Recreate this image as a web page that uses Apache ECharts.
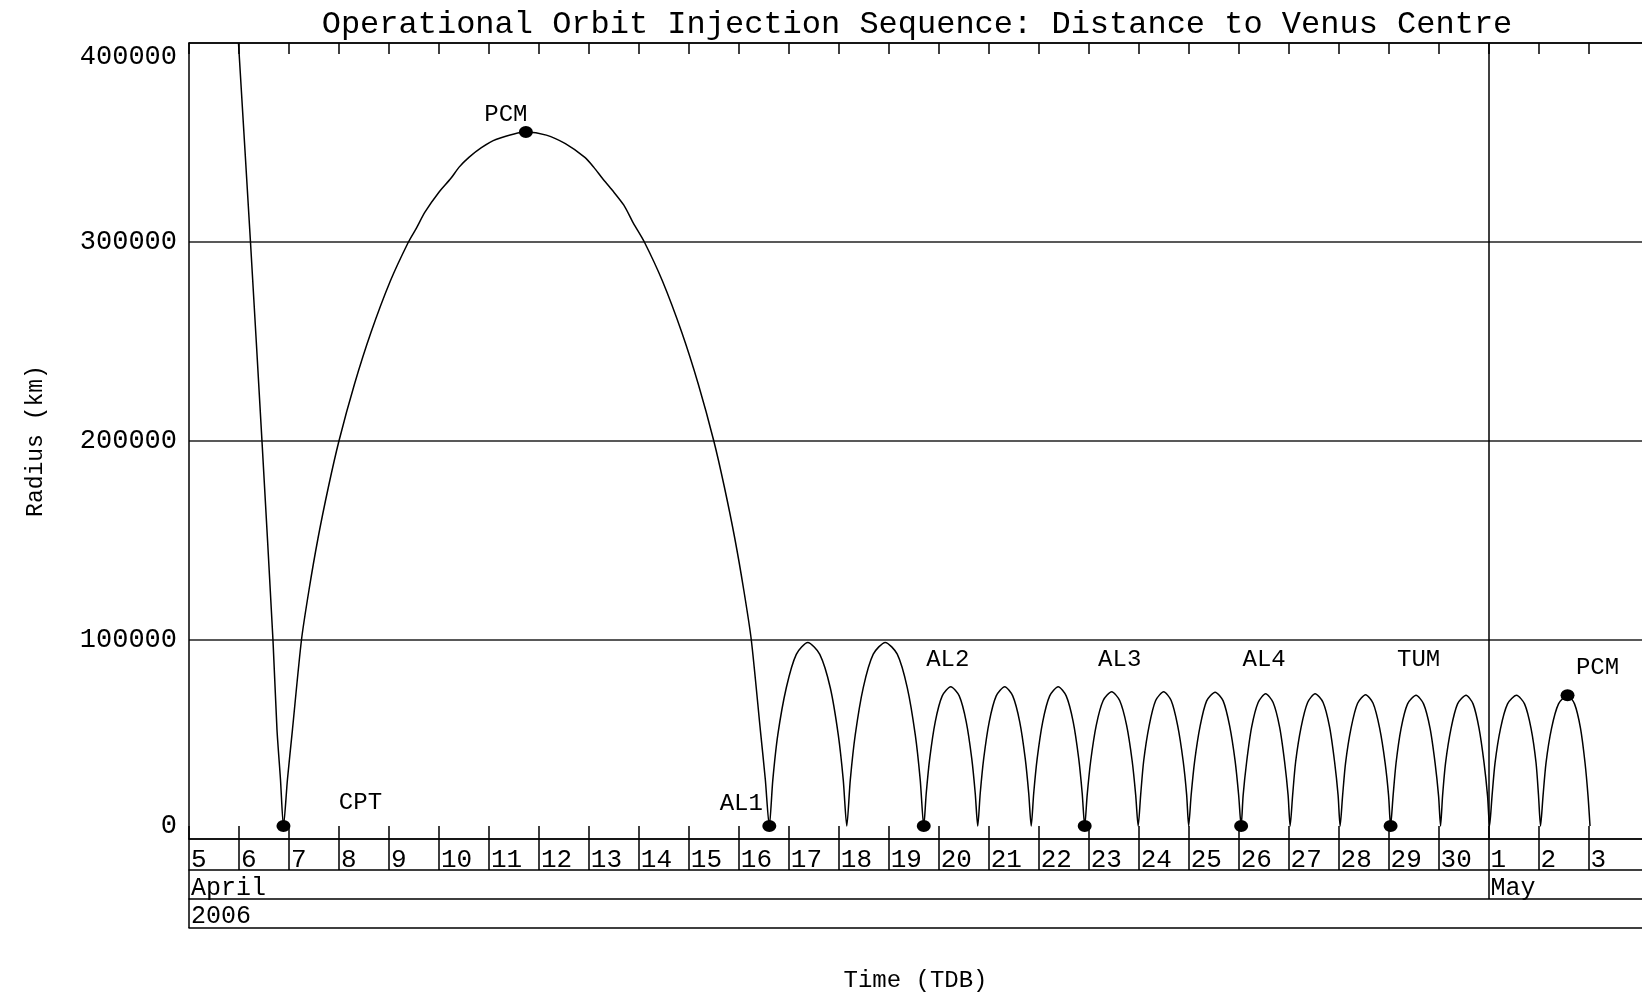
<!DOCTYPE html>
<html>
<head>
    <meta charset="utf-8">
    <title>Operational Orbit Injection Sequence</title>
    <script src="https://cdn.jsdelivr.net/npm/echarts@6/dist/echarts.min.js"></script>
    <style>
        html, body { margin: 0; padding: 0; background: #fff; }
    </style>
</head>
<body>
    <div id="main" style="width: 1642px;height:998px;"></div>

    <script type="text/javascript">

        // time is in April days (5 = 5 April 00:00, 31 = 1 May)
        var orbitDay = [
            5.99, 6.23, 6.46, 6.68, 6.76, 6.83, 6.89,
            6.97, 7.07, 7.25, 7.40, 7.58, 7.79, 8.00, 8.31, 8.64, 9.03, 9.39, 9.55, 9.72,
            10.00, 10.24, 10.40, 10.60, 10.85, 11.14, 11.74,
            12.15, 12.53, 12.92, 13.10, 13.27, 13.47, 13.70, 13.89, 14.11, 14.47, 14.86, 15.19, 15.50,
            15.71, 15.92, 16.10, 16.25, 16.43, 16.53, 16.61,
            16.68, 16.78, 16.95, 17.15, 17.38, 17.62, 17.83, 17.99, 18.09, 18.16,
            18.23, 18.33, 18.49, 18.69, 18.93, 19.17, 19.37, 19.53, 19.63, 19.70,
            19.75, 19.82, 19.93, 20.07, 20.24, 20.41, 20.55, 20.66, 20.73, 20.78,
            20.83, 20.90, 21.01, 21.15, 21.32, 21.48, 21.62, 21.73, 21.80, 21.85,
            21.90, 21.97, 22.08, 22.22, 22.39, 22.55, 22.69, 22.80, 22.87, 22.92,
            22.97, 23.04, 23.15, 23.29, 23.46, 23.62, 23.76, 23.87, 23.94, 23.99,
            24.04, 24.10, 24.21, 24.34, 24.50, 24.65, 24.78, 24.89, 24.96, 25.00,
            25.05, 25.12, 25.23, 25.36, 25.53, 25.69, 25.82, 25.93, 26.00, 26.05,
            26.09, 26.16, 26.26, 26.39, 26.54, 26.69, 26.82, 26.92, 26.99, 27.03,
            27.08, 27.14, 27.25, 27.38, 27.53, 27.69, 27.82, 27.92, 27.99, 28.03,
            28.08, 28.14, 28.25, 28.38, 28.54, 28.69, 28.82, 28.93, 29.00, 29.04,
            29.09, 29.15, 29.25, 29.38, 29.55, 29.70, 29.83, 29.93, 30.00, 30.04,
            30.08, 30.14, 30.25, 30.38, 30.55, 30.69, 30.81, 30.91, 30.98, 31.02,
            31.07, 31.13, 31.24, 31.38, 31.56, 31.72, 31.85, 31.95, 32.00, 32.04,
            32.09, 32.15, 32.26, 32.40, 32.58, 32.72, 32.84, 32.93, 32.99, 33.03
        ];
        var orbitKm = [
            400000, 300000, 200000, 100000, 55000, 30000, 6500,
            30000, 55000, 100000, 125000, 151000, 177000, 200000, 228500, 254500, 280500, 300000, 307000, 315000,
            325000, 332000, 337500, 342500, 347400, 351500, 355300,
            353700, 349400, 342500, 337500, 332000, 326000, 318500, 309500, 300000, 280500, 254500, 228500, 200000,
            177000, 151000, 125000, 100000, 55000, 30000, 6500,
            29600, 52300, 76000, 92800, 98700, 92800, 76000, 52300, 29600, 6500,
            29600, 52400, 76100, 92900, 98800, 92900, 76100, 52400, 29600, 6500,
            23000, 40500, 58900, 71900, 76500, 71900, 58900, 40500, 23000, 6500,
            23000, 40500, 58900, 71900, 76500, 71900, 58900, 40500, 23000, 6500,
            23000, 40500, 58900, 71900, 76500, 71900, 58900, 40500, 23000, 6500,
            22200, 39200, 57000, 69600, 74000, 69600, 57000, 39200, 22200, 6500,
            22200, 39200, 57000, 69600, 74000, 69600, 57000, 39200, 22200, 6500,
            22100, 39100, 56800, 69400, 73800, 69400, 56800, 39100, 22100, 6500,
            21900, 38700, 56200, 68600, 73000, 68600, 56200, 38700, 21900, 6500,
            21900, 38700, 56200, 68600, 73000, 68600, 56200, 38700, 21900, 6500,
            21800, 38400, 55800, 68200, 72500, 68200, 55800, 38400, 21800, 6500,
            21700, 38300, 55600, 67900, 72200, 67900, 55600, 38300, 21700, 6500,
            21700, 38300, 55600, 67900, 72200, 67900, 55600, 38300, 21700, 6500,
            21700, 38300, 55600, 67900, 72200, 67900, 55600, 38300, 21700, 6500,
            21700, 38300, 55600, 67900, 72200, 67900, 55600, 38300, 21700, 6500
        ];

        // manoeuvres
        var eventName = ['CPT', 'PCM', 'AL1', 'AL2', 'AL3', 'AL4', 'TUM', 'PCM'];
        var eventDay  = [6.89, 11.74, 16.61, 19.70, 22.92, 26.05, 29.04, 32.58];
        var eventKm   = [6500, 355300, 6500, 6500, 6500, 6500, 6500, 72200];

        var dayTicks = [5, 6, 7, 8, 9, 10, 11, 12, 13, 14, 15, 16, 17, 18, 19, 20,
                        21, 22, 23, 24, 25, 26, 27, 28, 29, 30, 31, 32, 33];
        var monthTicks = [5, 31];
        var monthNames = ['April', 'May'];
        var yearTicks = [5];
        var yearNames = ['2006'];
        var radiusTicks = [0, 100000, 200000, 300000, 400000];

        // where each manoeuvre name sits relative to its dot (px)
        var labelOffsets = [[77, -23], [-20, -17], [-28, -22], [24, -166],
                            [35, -166], [23, -166], [28, -166], [30, -28]];

        var FONT = '"Liberation Mono", "DejaVu Sans Mono", monospace';
        var INK = '#000';
        var XMIN = 5, XMAX = 34.07;

        function dayLabel(v) {
            return String(v <= 30 ? v : v - 30);
        }

        function baseX(extra) {
            var ax = {
                type: 'value', min: XMIN, max: XMAX, position: 'bottom', offset: 0,
                axisLine: { show: false, lineStyle: { color: INK, width: 1.5 } },
                axisTick: { show: false },
                axisLabel: { show: false },
                splitLine: { show: false }
            };
            for (var k in extra) ax[k] = extra[k];
            return ax;
        }

        var myChart = echarts.init(document.getElementById('main'));

        var option = {
            backgroundColor: '#fff',
            animation: false,
            title: {
                text: 'Operational Orbit Injection Sequence: Distance to Venus Centre',
                left: 917, top: 9, padding: 0, textAlign: 'center',
                textStyle: { fontFamily: FONT, fontSize: 32, fontWeight: 'normal', color: INK }
            },
            grid: { left: 189, right: -10, top: 43, bottom: 155, containLabel: false },
            xAxis: [
                // main axis: 0 line with small inward ticks
                baseX({
                    axisLine: { show: true, lineStyle: { color: INK, width: 1.5 } },
                    axisTick: { show: true, inside: true, length: 13, customValues: dayTicks,
                                lineStyle: { color: INK, width: 1.5 } }
                }),
                // day row
                baseX({
                    axisTick: { show: true, inside: false, length: 31, customValues: dayTicks,
                                lineStyle: { color: INK, width: 1.5 } },
                    axisLabel: { show: true, customValues: dayTicks, formatter: dayLabel,
                                 align: 'left', margin: 8, padding: [0, 0, 0, 2],
                                 fontFamily: FONT, fontSize: 26, color: INK }
                }),
                // month row
                baseX({
                    offset: 31,
                    axisLine: { show: true, lineStyle: { color: INK, width: 1.5 } },
                    axisTick: { show: true, inside: false, length: 29, customValues: monthTicks,
                                lineStyle: { color: INK, width: 1.5 } },
                    axisLabel: { show: true, customValues: monthTicks,
                                 formatter: function (v) { return monthNames[monthTicks.indexOf(v)]; },
                                 align: 'left', margin: 6, padding: [0, 0, 0, 2],
                                 fontFamily: FONT, fontSize: 25, color: INK }
                }),
                // year row
                baseX({
                    offset: 60,
                    axisLine: { show: true, lineStyle: { color: INK, width: 1.5 } },
                    axisTick: { show: true, inside: false, length: 29, customValues: yearTicks,
                                lineStyle: { color: INK, width: 1.5 } },
                    axisLabel: { show: true, customValues: yearTicks,
                                 formatter: function (v) { return yearNames[yearTicks.indexOf(v)]; },
                                 align: 'left', margin: 5, padding: [0, 0, 0, 2],
                                 fontFamily: FONT, fontSize: 25, color: INK }
                }),
                // closing line of the date table + axis name
                baseX({
                    offset: 89,
                    axisLine: { show: true, lineStyle: { color: INK, width: 1.5 } },
                    name: 'Time (TDB)', nameLocation: 'middle', nameGap: 41,
                    nameTextStyle: { fontFamily: FONT, fontSize: 24, color: INK }
                }),
                // top border with inward ticks
                baseX({
                    position: 'top',
                    axisLine: { show: true, lineStyle: { color: INK, width: 1.5 } },
                    axisTick: { show: true, inside: true, length: 11, customValues: dayTicks,
                                lineStyle: { color: INK, width: 1.5 } }
                })
            ],
            yAxis: {
                type: 'value', min: 0, max: 400000, interval: 100000,
                name: 'Radius (km)', nameLocation: 'middle', nameGap: 142,
                nameTextStyle: { fontFamily: FONT, fontSize: 23, color: INK },
                axisLine: { show: true, lineStyle: { color: INK, width: 1.5 } },
                axisTick: { show: false },
                axisLabel: {
                    customValues: radiusTicks,
                    formatter: function (v) { return String(v); },
                    fontFamily: FONT, fontSize: 27, color: INK, margin: 12,
                    verticalAlignMinLabel: 'bottom', verticalAlignMaxLabel: 'top'
                },
                splitLine: { show: true, lineStyle: { color: '#222', width: 1.5 } }
            },
            series: [
                {
                    type: 'line',
                    xAxisIndex: 0,
                    data: orbitDay.map(function (d, i) { return [d, orbitKm[i]]; }),
                    showSymbol: false,
                    smooth: 0.25,
                    clip: true,
                    lineStyle: { color: INK, width: 1.5 },
                    markLine: {
                        silent: true, symbol: 'none', label: { show: false },
                        lineStyle: { color: INK, width: 1.5, type: 'solid' },
                        data: [{ xAxis: monthTicks[1] }]
                    },
                    z: 3
                },
                {
                    type: 'scatter',
                    xAxisIndex: 0,
                    symbol: 'circle',
                    symbolSize: [14, 12],
                    itemStyle: { color: '#000', opacity: 1 },
                    data: eventDay.map(function (d, i) {
                        return {
                            value: [d, eventKm[i]],
                            name: eventName[i],
                            label: { offset: labelOffsets[i] }
                        };
                    }),
                    label: {
                        show: true, position: 'inside',
                        formatter: '{b}',
                        fontFamily: FONT, fontSize: 24, color: '#000', opacity: 1
                    },
                    z: 4
                }
            ]
        };

        myChart.setOption(option);

    </script>

</body>
</html>
